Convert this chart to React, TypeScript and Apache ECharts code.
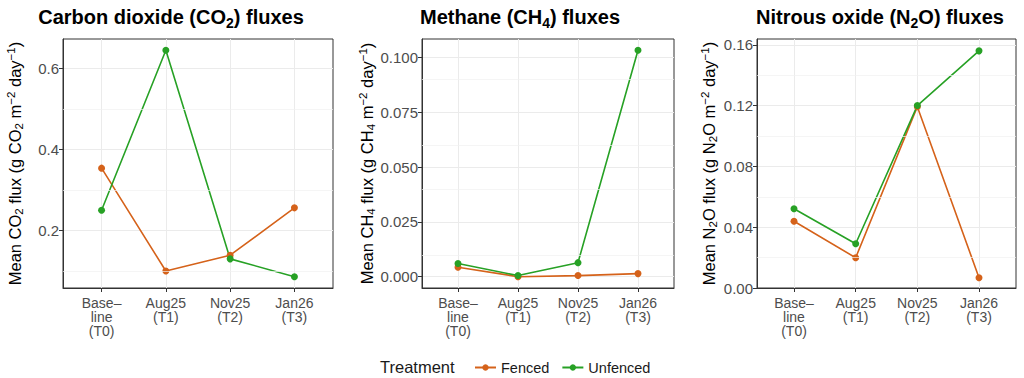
import React, { useEffect, useRef } from "react";
import * as echarts from "echarts";

const categories = ["Base–\nline\n(T0)", "Aug25\n(T1)", "Nov25\n(T2)", "Jan26\n(T3)"];
const seriesNames = ["Fenced", "Unfenced"];

const co2Fenced = [0.354, 0.1, 0.139, 0.256];
const co2Unfenced = [0.25, 0.645, 0.13, 0.086];
const ch4Fenced = [0.0043, 0.0, 0.0005, 0.0014];
const ch4Unfenced = [0.006, 0.0005, 0.0064, 0.1033];
const n2oFenced = [0.0439, 0.0199, 0.1193, 0.0068];
const n2oUnfenced = [0.0521, 0.0291, 0.12, 0.156];

const co2Ticks = [0.2, 0.4, 0.6];
const co2Minor = [0.1, 0.3, 0.5];
const ch4Ticks = [0, 0.025, 0.05, 0.075, 0.1];
const ch4Minor = [0.0125, 0.0375, 0.0625, 0.0875];
const n2oTicks = [0, 0.04, 0.08, 0.12, 0.16];
const n2oMinor = [0.02, 0.06, 0.1, 0.14];

const FONT = "'Liberation Sans', Arial, Helvetica, sans-serif";
const ORANGE = "#d5621a";
const GREEN = "#27a125";

export default function App() {
  const ref = useRef<HTMLDivElement>(null);
  useEffect(() => {
    const chart = echarts.init(ref.current!, null, { renderer: "svg" });

    const panels = [
      {
        grid: { left: 63, top: 39, width: 270, height: 249 },
        fenced: co2Fenced, unfenced: co2Unfenced, ticks: co2Ticks, minor: co2Minor,
        digits: 1, zeroBase: false,
        name: "Mean CO{sub|2} flux (g CO{sub|2} m{sup|−2} day{sup|−1})",
        title: "Carbon dioxide (CO{s|2}) fluxes", titleX: 171,
      },
      {
        grid: { left: 422, top: 39, width: 252, height: 249 },
        fenced: ch4Fenced, unfenced: ch4Unfenced, ticks: ch4Ticks, minor: ch4Minor,
        digits: 3, zeroBase: false,
        name: "Mean CH{sub|4} flux (g CH{sub|4} m{sup|−2} day{sup|−1})",
        title: "Methane (CH{s|4}) fluxes", titleX: 520,
      },
      {
        grid: { left: 757, top: 39, width: 259, height: 249 },
        fenced: n2oFenced, unfenced: n2oUnfenced, ticks: n2oTicks, minor: n2oMinor,
        digits: 2, zeroBase: true,
        name: "Mean N{sub|2}O flux (g N{sub|2}O m{sup|−2} day{sup|−1})",
        title: "Nitrous oxide (N{s|2}O) fluxes", titleX: 880,
      },
    ];

    const grids: any[] = [];
    const xAxes: any[] = [];
    const yAxes: any[] = [];
    const series: any[] = [];
    const graphics: any[] = [];
    const xVals = categories.map((_, i) => i + 1);

    panels.forEach((p, k) => {
      grids.push({ ...p.grid, show: true, borderColor: "#333333", borderWidth: 1, backgroundColor: "#ffffff" });
      xAxes.push({
        type: "value", gridIndex: k, min: 0.4, max: 4.6,
        axisLine: { show: true, onZero: false, lineStyle: { color: "#333333", width: 1 } },
        axisTick: { show: true, length: 4, customValues: xVals, lineStyle: { color: "#333333" } },
        axisLabel: {
          customValues: xVals, margin: 8, color: "#4d4d4d", fontSize: 14, lineHeight: 14, fontFamily: FONT,
          formatter: (v: number) => categories[Math.round(v) - 1] ?? "",
        },
        splitLine: { show: true, lineStyle: { color: "#ebebeb", width: 1 } },
      });
      const all = [...p.fenced, ...p.unfenced];
      const lo = p.zeroBase ? 0 : Math.min(...all);
      const hi = Math.max(...all);
      const span = hi - lo;
      yAxes.push({
        type: "value", gridIndex: k,
        min: p.zeroBase ? 0 : lo - span * 0.05, max: hi + span * 0.05,
        axisLine: { show: true, onZero: false, lineStyle: { color: "#333333", width: 1 } },
        axisTick: { show: true, length: 4, customValues: p.ticks, lineStyle: { color: "#333333" } },
        axisLabel: {
          customValues: p.ticks, margin: 4, color: "#4d4d4d", fontSize: 15, fontFamily: FONT,
          formatter: (v: number) => v.toFixed(p.digits),
        },
        splitLine: { show: true, lineStyle: { color: "#ebebeb", width: 1 } },
        name: p.name, nameLocation: "middle", nameGap: 38,
        nameTextStyle: {
          fontSize: 16.5, color: "#000000", fontFamily: FONT, lineHeight: 20,
          rich: {
            sub: { fontSize: 11.5, lineHeight: 11, verticalAlign: "bottom", fontFamily: FONT, color: "#000" },
            sup: { fontSize: 11.5, lineHeight: 11, verticalAlign: "top", fontFamily: FONT, color: "#000" },
          },
        },
      });
      series.push({
        type: "line", name: "minor-" + k, xAxisIndex: k, yAxisIndex: k, data: [], silent: true,
        markLine: {
          silent: true, symbol: "none", label: { show: false },
          lineStyle: { color: "#f1f1f1", width: 0.7, type: "solid" },
          data: p.minor.map((v) => ({ yAxis: v })),
        },
      });
      [p.fenced, p.unfenced].forEach((vals, j) => {
        series.push({
          type: "line", name: seriesNames[j], xAxisIndex: k, yAxisIndex: k,
          data: vals.map((v, i) => [xVals[i], v]),
          symbol: "circle", symbolSize: 7,
          itemStyle: { color: j === 0 ? ORANGE : GREEN },
          lineStyle: { color: j === 0 ? ORANGE : GREEN, width: 1.6 },
          z: 3,
        });
      });
      graphics.push({
        type: "text", x: p.titleX, y: 17,
        style: {
          text: p.title, align: "center", verticalAlign: "middle",
          fontSize: 20, fontWeight: "bold", fontFamily: FONT, fill: "#000",
          rich: {
            s: { fontSize: 14, lineHeight: 13, verticalAlign: "bottom", fontWeight: "bold", fontFamily: FONT, fill: "#000" },
          },
          lineHeight: 25,
        },
      });
    });

    graphics.push({
      type: "text", x: 380, y: 367,
      style: { text: "Treatment", verticalAlign: "middle", fontSize: 16.5, fontFamily: FONT, fill: "#1a1a1a" },
    });

    chart.setOption({
      animation: false,
      backgroundColor: "#ffffff",
      grid: grids,
      xAxis: xAxes,
      yAxis: yAxes,
      series,
      graphic: graphics,
      legend: {
        data: seriesNames, left: 469, top: 355, itemWidth: 21, itemHeight: 8, itemGap: 12,
        textStyle: { fontSize: 14.5, color: "#1a1a1a", fontFamily: FONT },
      },
    });
    return () => chart.dispose();
  }, []);
  return <div ref={ref} style={{ position: "absolute", left: 0, top: 0, width: 1024, height: 378 }} />;
}
